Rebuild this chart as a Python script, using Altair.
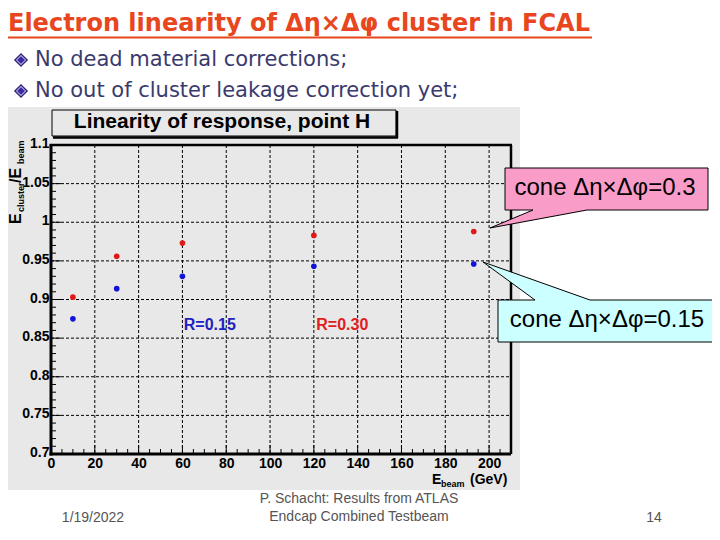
import altair as alt
import pandas as pd

# ---------------- data ----------------
energies = [10, 30, 60, 120, 193]
resp_cone030 = [0.903, 0.956, 0.973, 0.983, 0.988]
resp_cone015 = [0.875, 0.914, 0.930, 0.943, 0.946]

x_major = [0, 20, 40, 60, 80, 100, 120, 140, 160, 180, 200]
x_minor = [v for v in range(0, 211, 5) if v % 20 != 0]
y_major = [0.7, 0.75, 0.8, 0.85, 0.9, 0.95, 1.0, 1.05, 1.1]
y_minor = [round(0.7 + i * 0.01, 2) for i in range(41) if i % 5 != 0]

# ---------------- geometry ----------------
W, H = 460, 309          # plot area
OX, OY = 51, 145         # plot origin in page pixels


def px(X):
    return X - OX


def py(Y):
    return Y - OY


ONE = alt.Data(values=[{}])
FONT = "Liberation Sans"
SLIDE_FONT = "DejaVu Sans"

xs = alt.Scale(domain=[0, 210], nice=False, zero=False)
ys = alt.Scale(domain=[0.7, 1.1], nice=False, zero=False)

lab_expr = "'' + datum.value"
XAX = alt.Axis(values=x_major, title=None, labelFont=FONT, labelFontWeight="bold",
               labelFontSize=14, labelColor="black", ticks=False, domain=False,
               grid=False, labelPadding=2, labelFlush=False, labelOverlap=False,
               labelExpr=lab_expr, zindex=1)
YAX = alt.Axis(values=y_major, title=None, labelFont=FONT, labelFontWeight="bold",
               labelFontSize=14, labelColor="black", ticks=False, domain=False,
               grid=False, labelPadding=2, labelFlush=False, labelOverlap=False,
               labelOffset=-1.5, labelExpr=lab_expr, zindex=1)


def X(field):
    return alt.X(field, scale=xs, axis=XAX)


def Y(field):
    return alt.Y(field, scale=ys, axis=YAX)


def rect(X1, Y1, X2, Y2, **kw):
    return alt.Chart(ONE).mark_rect(**kw).encode(
        x=alt.value(px(X1)), x2=alt.value(px(X2)),
        y=alt.value(py(Y1)), y2=alt.value(py(Y2)))


def text(t, XX, YY, **kw):
    return alt.Chart(ONE).mark_text(text=t, **kw).encode(
        x=alt.value(px(XX)), y=alt.value(py(YY)))


def hline(X1, X2, YY, **kw):
    return alt.Chart(ONE).mark_rule(**kw).encode(
        x=alt.value(px(X1)), x2=alt.value(px(X2)), y=alt.value(py(YY)))


def vline(XX, Y1, Y2, **kw):
    return alt.Chart(ONE).mark_rule(**kw).encode(
        x=alt.value(px(XX)), y=alt.value(py(Y1)), y2=alt.value(py(Y2)))


layers = []

# ROOT canvas background
layers.append(rect(0, 107, 520, 490, fill="#e8e8e8", stroke=None))
# plot title box
layers.append(rect(52, 110, 396, 136, fill="#e8e8e8", stroke="black", strokeWidth=1))
layers.append(hline(53, 398, 137.5, color="black", strokeWidth=2.5))
layers.append(vline(397, 111, 138, color="black", strokeWidth=2.5))
layers.append(text("Linearity of response, point H", 222, 122, font=FONT,
                   fontWeight="bold", fontSize=21, color="black",
                   align="center", baseline="middle"))

# grid lines
gx = pd.DataFrame({"v": [v for v in x_major if 0 < v <= 200]})
gy = pd.DataFrame({"v": [v for v in y_major if 0.7 < v < 1.1]})
layers.append(alt.Chart(gx).mark_rule(color="black", strokeWidth=1, strokeDash=[3, 2]).encode(
    x=X("v:Q"), y=alt.value(0), y2=alt.value(H)))
layers.append(alt.Chart(gy).mark_rule(color="black", strokeWidth=1, strokeDash=[3, 2]).encode(
    y=Y("v:Q"), x=alt.value(0), x2=alt.value(W)))

# inward ticks
layers.append(alt.Chart(pd.DataFrame({"v": x_major})).mark_rule(color="black", strokeWidth=1).encode(
    x=X("v:Q"), y=alt.value(H), y2=alt.value(H - 9)))
layers.append(alt.Chart(pd.DataFrame({"v": x_minor})).mark_rule(color="black", strokeWidth=1).encode(
    x=X("v:Q"), y=alt.value(H), y2=alt.value(H - 5)))
layers.append(alt.Chart(pd.DataFrame({"v": y_major})).mark_rule(color="black", strokeWidth=1).encode(
    y=Y("v:Q"), x=alt.value(0), x2=alt.value(10)))
layers.append(alt.Chart(pd.DataFrame({"v": y_minor})).mark_rule(color="black", strokeWidth=1).encode(
    y=Y("v:Q"), x=alt.value(0), x2=alt.value(5)))

# frame
layers.append(alt.Chart(ONE).mark_rule(color="black", strokeWidth=3).encode(
    x=alt.value(0), y=alt.value(0), y2=alt.value(H + 1.5)))
layers.append(alt.Chart(ONE).mark_rule(color="black", strokeWidth=3).encode(
    x=alt.value(-1.5), x2=alt.value(W), y=alt.value(H)))
layers.append(alt.Chart(ONE).mark_rule(color="black", strokeWidth=2.5).encode(
    x=alt.value(-1.5), x2=alt.value(W + 1), y=alt.value(0)))
layers.append(alt.Chart(ONE).mark_rule(color="black", strokeWidth=2.5).encode(
    x=alt.value(W), y=alt.value(0), y2=alt.value(H)))

# data points
pts030 = pd.DataFrame({"E": energies, "R": resp_cone030})
pts015 = pd.DataFrame({"E": energies, "R": resp_cone015})
layers.append(alt.Chart(pts030).mark_circle(size=32, opacity=1, color="#e01818").encode(
    x=X("E:Q"), y=Y("R:Q")))
layers.append(alt.Chart(pts015).mark_circle(size=32, opacity=1, color="#1212d8").encode(
    x=X("E:Q"), y=Y("R:Q")))

# R labels inside the plot
r_pos = pd.DataFrame({"E": [72.5], "R": [0.867], "t": ["R=0.15"]})
r_pos2 = pd.DataFrame({"E": [133.0], "R": [0.867], "t": ["R=0.30"]})
layers.append(alt.Chart(r_pos).mark_text(font=FONT, fontWeight="bold", fontSize=16,
                                         baseline="middle", align="center",
                                         color="#2020c0").encode(
    x=X("E:Q"), y=Y("R:Q"), text="t:N"))
layers.append(alt.Chart(r_pos2).mark_text(font=FONT, fontWeight="bold", fontSize=16,
                                          baseline="middle", align="center",
                                          color="#e02020").encode(
    x=X("E:Q"), y=Y("R:Q"), text="t:N"))

# y-axis title E_cluster / E_beam (rotated)
ytit = dict(font=FONT, fontWeight="bold", color="black", angle=270, align="left",
            baseline="alphabetic")
layers.append(text("E", 21, 224, fontSize=16, **ytit))
layers.append(text("cluster", 24, 212, fontSize=9, **ytit))
layers.append(text("/E", 21, 183, fontSize=16, **ytit))
layers.append(text("beam", 24, 164, fontSize=9, **ytit))

# x-axis title E_beam (GeV)
xtit = dict(font=FONT, fontWeight="bold", color="black", align="left", baseline="alphabetic")
layers.append(text("E", 432, 484, fontSize=14, **xtit))
layers.append(text("beam", 441, 487, fontSize=9, **xtit))
layers.append(text("(GeV)", 470, 484, fontSize=14, **xtit))

# slide title and bullets
layers.append(text("Electron linearity of \u0394\u03b7\u00d7\u0394\u03c6 cluster in FCAL", 8, 31,
                   font=SLIDE_FONT, fontWeight="bold", fontSize=24, color="#e8461e",
                   align="left", baseline="alphabetic"))
layers.append(hline(8, 592, 37.5, color="#e8461e", strokeWidth=2))
for Yc, t in [(60, "No dead material corrections;"),
              (91, "No out of cluster leakage correction yet;")]:
    layers.append(alt.Chart(ONE).mark_point(shape="diamond", filled=True, size=200,
                                            color="#2a2070", opacity=1).encode(
        x=alt.value(px(21)), y=alt.value(py(Yc))))
    layers.append(alt.Chart(ONE).mark_point(shape="diamond", filled=True, size=110,
                                            color="#b8b0e8", opacity=1).encode(
        x=alt.value(px(21)), y=alt.value(py(Yc))))
    layers.append(alt.Chart(ONE).mark_point(shape="diamond", filled=True, size=60,
                                            color="#3a2aa0", opacity=1).encode(
        x=alt.value(px(21)), y=alt.value(py(Yc))))
    layers.append(text(t, 35, Yc, font=SLIDE_FONT, fontSize=21, color="#3a3a6e",
                       align="left", baseline="middle"))

# callouts (shape path in pixels, anchored at plot origin, size=4 -> scale 1)
pink_path = "M454,23 L657,23 L657,65 L536,65 L439,83 L482,65 L454,65 Z"
cyan_path = "M447,155 L484,155 L432,117 L539,155 L669,155 L669,197 L447,197 Z"
layers.append(alt.Chart(ONE).mark_point(shape=pink_path, size=4, filled=True, fill="#fa9cc8",
                                        stroke="black", strokeWidth=1, opacity=1).encode(
    x=alt.value(0), y=alt.value(0)))
layers.append(alt.Chart(ONE).mark_point(shape=cyan_path, size=4, filled=True, fill="#ccffff",
                                        stroke="black", strokeWidth=1, opacity=1).encode(
    x=alt.value(0), y=alt.value(0)))
layers.append(text("cone \u0394\u03b7\u00d7\u0394\u03c6=0.3", 605, 188, font=FONT, fontSize=24,
                   color="black", align="center", baseline="middle"))
layers.append(text("cone \u0394\u03b7\u00d7\u0394\u03c6=0.15", 607, 320, font=FONT, fontSize=24,
                   color="black", align="center", baseline="middle"))

# footer
foot = dict(font=FONT, fontSize=14, color="#555555", align="center", baseline="middle")
layers.append(text("1/19/2022", 93, 518, **foot))
layers.append(text("P. Schacht:  Results from ATLAS", 359, 499, **foot))
layers.append(text("Endcap  Combined Testbeam", 359, 517, **foot))
layers.append(text("14", 654, 518, **foot))

chart = alt.layer(*layers).properties(
    width=W, height=H,
    autosize=alt.AutoSizeParams(type="none"),
    padding={"left": OX - 8, "top": OY - 8, "right": 704 - (OX - 8) - W,
             "bottom": 524 - (OY - 8) - H},
    background="white",
).configure_view(strokeWidth=0)

chart.save("out.html", embed_options={"renderer": "svg", "actions": False})
